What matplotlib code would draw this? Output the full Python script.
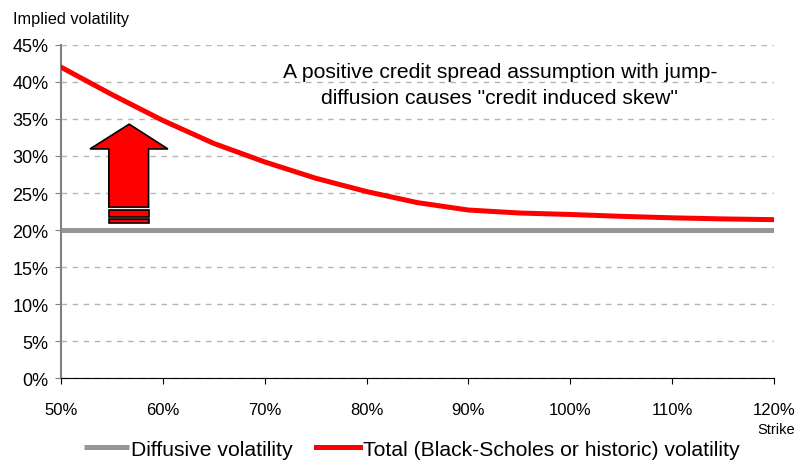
import matplotlib.pyplot as plt
from matplotlib.patches import Polygon, Rectangle
from matplotlib.ticker import FuncFormatter

plt.rcParams['font.family'] = ['Liberation Sans', 'DejaVu Sans']

# strike in % of spot
strikes = [50, 55, 60, 65, 70, 75, 80, 85, 90, 95, 100, 105, 110, 115, 120]
total_vol = [42.0, 38.3, 34.8, 31.7, 29.2, 27.0, 25.2, 23.7, 22.7, 22.3,
             22.1, 21.85, 21.65, 21.5, 21.4]
diffusive_vol = [20.0] * len(strikes)

xticks = [50, 60, 70, 80, 90, 100, 110, 120]
yticks = [0, 5, 10, 15, 20, 25, 30, 35, 40, 45]

fig = plt.figure(figsize=(7.97, 4.64), dpi=100)
ax = fig.add_axes([0.0765, 0.183, 0.8945, 0.718])

ax.plot(strikes, diffusive_vol, color='#969696', lw=3.6,
        solid_capstyle='butt', label='Diffusive volatility', zorder=3)
ax.plot(strikes, total_vol, color='#ff0000', lw=3.6,
        label='Total (Black-Scholes or historic) volatility', zorder=4)

ax.set_xlim(50, 120)
ax.set_ylim(0, 45)
ax.set_xticks(xticks)
ax.set_yticks(yticks)
pct = FuncFormatter(lambda v, p: '%d%%' % v)
ax.xaxis.set_major_formatter(pct)
ax.yaxis.set_major_formatter(pct)

ax.grid(axis='y', color='#b4b4b4', ls=(0, (4, 4)), lw=1)
ax.set_axisbelow(True)
for s in ['top', 'right']:
    ax.spines[s].set_visible(False)
ax.spines['left'].set_color('#808080')
ax.spines['left'].set_linewidth(1.5)
ax.spines['bottom'].set_color('black')
ax.tick_params(axis='x', labelsize=12, length=4, pad=13, direction='out')
ax.tick_params(axis='y', labelsize=13, length=4, pad=5, direction='out',
               color='#808080')

# arrow pointing up from the diffusive level
arrow = [(54.7, 23.1), (54.7, 30.95), (52.85, 30.95), (56.7, 34.3),
         (60.5, 30.95), (58.6, 30.95), (58.6, 23.1)]
ax.add_patch(Polygon(arrow, closed=True, fc='#ff0000', ec='black', lw=1.2, zorder=5))
ax.add_patch(Rectangle((54.7, 21.75), 3.9, 0.95, fc='#ff0000', ec='black', lw=1.2, zorder=5))
ax.add_patch(Rectangle((54.7, 20.95), 3.9, 0.55, fc='#ff0000', ec='black', lw=1.2, zorder=5))

ax.text(93.1, 39.7, 'A positive credit spread assumption with jump-\n'
        'diffusion causes "credit induced skew"',
        ha='center', va='center', fontsize=15.2, linespacing=1.45)

fig.text(0.016, 0.958, 'Implied volatility', fontsize=11.8, va='center')
fig.text(0.997, 0.073, 'Strike', fontsize=10.5, ha='right', va='center')

fig.legend(loc='center', bbox_to_anchor=(0.517, 0.03), ncol=2, frameon=False,
           fontsize=15.2, handlelength=2.1, handletextpad=0.12, columnspacing=1.1)

fig.savefig('out.png', dpi=100)
